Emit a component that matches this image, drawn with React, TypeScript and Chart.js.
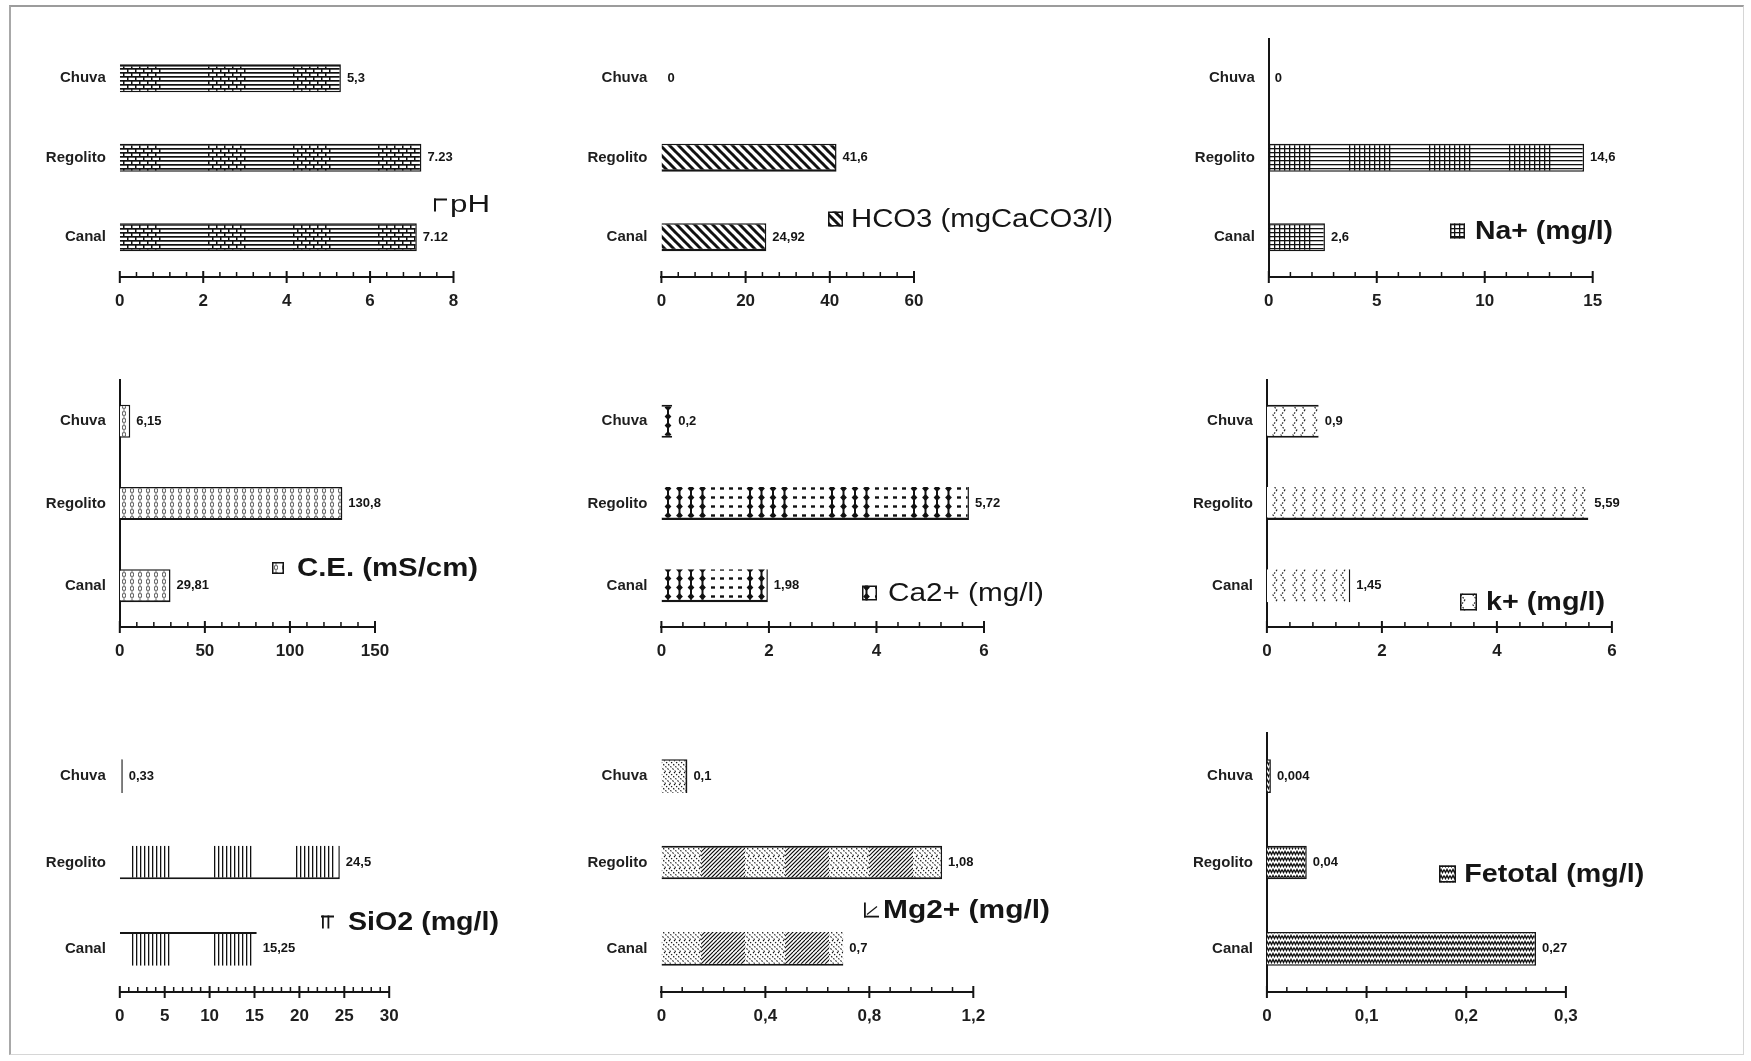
import React, { useEffect, useRef } from 'react';
import { Chart, registerables } from 'chart.js';

Chart.register(...registerables);

// ---------------- data ----------------
const categories = ['Chuva', 'Regolito', 'Canal'];

const phValues = [5.3, 7.23, 7.12];
const phLabels = ['5,3', '7.23', '7.12'];
const phTicks = [0, 2, 4, 6, 8];

const hco3Values = [0, 41.6, 24.92];
const hco3Labels = ['0', '41,6', '24,92'];
const hco3Ticks = [0, 20, 40, 60];

const naValues = [0, 14.6, 2.6];
const naLabels = ['0', '14,6', '2,6'];
const naTicks = [0, 5, 10, 15];

const ceValues = [6.15, 130.8, 29.81];
const ceLabels = ['6,15', '130,8', '29,81'];
const ceTicks = [0, 50, 100, 150];

const caValues = [0.2, 5.72, 1.98];
const caLabels = ['0,2', '5,72', '1,98'];
const caTicks = [0, 2, 4, 6];

const kValues = [0.9, 5.59, 1.45];
const kLabels = ['0,9', '5,59', '1,45'];
const kTicks = [0, 2, 4, 6];

const sio2Values = [0.33, 24.5, 15.25];
const sio2Labels = ['0,33', '24,5', '15,25'];
const sio2Ticks = [0, 5, 10, 15, 20, 25, 30];

const mgValues = [0.1, 1.08, 0.7];
const mgLabels = ['0,1', '1,08', '0,7'];
const mgTicks = [0, 0.4, 0.8, 1.2];

const feValues = [0.004, 0.04, 0.27];
const feLabels = ['0,004', '0,04', '0,27'];
const feTicks = [0, 0.1, 0.2, 0.3];

// ---------------- patterns ----------------
type Ctx = CanvasRenderingContext2D;
function tile(w: number, h: number, draw: (c: Ctx) => void) {
  const t = document.createElement('canvas');
  t.width = w;
  t.height = h;
  const c = t.getContext('2d')!;
  c.fillStyle = '#fff';
  c.fillRect(0, 0, w, h);
  c.fillStyle = '#111';
  c.strokeStyle = '#111';
  draw(c);
  return t;
}

const tileBrick = () =>
  tile(85, 8, (c) => {
    c.fillRect(0, 0, 85, 1.7);
    c.fillRect(0, 4, 85, 1.7);
    for (let x = 1; x < 38; x += 8) {
      c.fillRect(x, 1, 1.5, 3);
      c.fillRect(x + 4, 5, 1.5, 3);
    }
  });

const tileDiag = () =>
  tile(9, 9, (c) => {
    c.lineWidth = 3;
    for (const o of [-9, 0, 9]) {
      c.beginPath();
      c.moveTo(o - 1, -1);
      c.lineTo(o + 10, 10);
      c.stroke();
    }
  });

const tileGrid = () =>
  tile(80, 4, (c) => {
    c.fillRect(0, 0, 80, 1.3);
    for (let x = 0; x <= 40; x += 5) c.fillRect(x, 0, 1.3, 4);
  });

const tileOvals = () =>
  tile(8, 7, (c) => {
    c.lineWidth = 0.9;
    c.strokeStyle = '#333';
    c.beginPath();
    c.ellipse(4, 3.5, 1.5, 2.7, 0, 0, Math.PI * 2);
    c.stroke();
  });

const tileDiamond = () =>
  tile(82, 9, (c) => {
    for (let i = 0; i < 4; i++) {
      const x = 5 + i * 11.5;
      c.fillRect(x - 1, 0, 2, 9);
      c.beginPath();
      c.moveTo(x, 1);
      c.lineTo(x + 3.4, 4.5);
      c.lineTo(x, 8);
      c.lineTo(x - 3.4, 4.5);
      c.closePath();
      c.fill();
    }
    for (let i = 0; i < 4; i++) {
      const x = 50 + i * 9;
      c.fillRect(x - 2, 3.3, 4, 2.4);
    }
  });

const tileChevron = () =>
  tile(20, 10, (c) => {
    c.lineWidth = 1.2;
    c.strokeStyle = '#222';
    c.setLineDash([1.6, 1.4]);
    c.beginPath();
    c.moveTo(7, 0);
    c.lineTo(3, 5);
    c.lineTo(7, 10);
    c.moveTo(15, 0);
    c.lineTo(11, 5);
    c.lineTo(15, 10);
    c.stroke();
  });

const tileComb = () =>
  tile(82, 4, (c) => {
    for (let k = 0; k < 10; k++) c.fillRect(k * 4, 0, 1.3, 4);
  });

const tileMix = () =>
  tile(84, 12, (c) => {
    c.save();
    c.beginPath();
    c.rect(0, 0, 40, 12);
    c.clip();
    c.setLineDash([1.5, 1.5]);
    c.lineWidth = 1.1;
    c.beginPath();
    for (let x = -12; x < 52; x += 5) {
      c.moveTo(x, 0);
      c.lineTo(x + 12, 12);
    }
    c.stroke();
    c.restore();
    c.save();
    c.beginPath();
    c.rect(40, 0, 44, 12);
    c.clip();
    c.lineWidth = 1.1;
    c.beginPath();
    for (let x = 40; x < 100; x += 4) {
      c.moveTo(x, 0);
      c.lineTo(x - 12, 12);
    }
    c.stroke();
    c.restore();
  });

const tileWave = () =>
  tile(6, 6, (c) => {
    c.lineWidth = 1.4;
    c.beginPath();
    c.moveTo(0, 1.5);
    c.lineTo(1.5, 4.5);
    c.lineTo(3, 1.5);
    c.lineTo(4.5, 4.5);
    c.lineTo(6, 1.5);
    c.stroke();
  });

// ---------------- panels ----------------
type BW = { top: number; right: number; bottom: number; left: number };
const bw = (top: number, right: number, bottom: number, left: number): BW => ({ top, right, bottom, left });

type Legend = {
  text: string;
  icon: 'box' | 'gamma' | 'comb' | 'corner';
  iconX: number;
  iconSize: number;
  textX: number;
  cy: number;
  size: number;
  width: number;
  bold: boolean;
};

type PanelCfg = {
  key: string;
  values: number[];
  labels: string[];
  ticks: number[];
  minorStep: number;
  cell: [number, number, number, number];
  area: [number, number, number, number]; // left, right, top, bottom (page coords)
  barPct: number;
  tile: () => HTMLCanvasElement;
  phase: number;
  borders: BW[];
  yLine: boolean;
  legend: Legend;
};

const Y_W = 90;
const X_H = 50;

const panels: PanelCfg[] = [
  {
    key: 'ph', values: phValues, labels: phLabels, ticks: phTicks, minorStep: 0.4,
    cell: [0, 0, 560, 340], area: [119.8, 453.5, 38.5, 277], barPct: 0.35,
    tile: tileBrick, phase: 122,
    borders: [bw(2.5, 1.5, 1.5, 0), bw(1.5, 1.5, 1.5, 0), bw(1.5, 1.5, 1.5, 0)], yLine: false,
    legend: { text: 'pH', icon: 'gamma', iconX: 434, iconSize: 13, textX: 450, cy: 205, size: 23, width: 40, bold: false },
  },
  {
    key: 'hco3', values: hco3Values, labels: hco3Labels, ticks: hco3Ticks, minorStep: 4,
    cell: [560, 0, 590, 340], area: [661.4, 914, 38.5, 277], barPct: 0.35,
    tile: tileDiag, phase: 0,
    borders: [bw(1.5, 1.5, 2.5, 0), bw(1.5, 1.5, 2.5, 0), bw(1.5, 1.5, 2.5, 0)], yLine: false,
    legend: { text: 'HCO3 (mgCaCO3/l)', icon: 'box', iconX: 828, iconSize: 15, textX: 851, cy: 219, size: 25, width: 262, bold: false },
  },
  {
    key: 'na', values: naValues, labels: naLabels, ticks: naTicks, minorStep: 1,
    cell: [1150, 0, 601, 340], area: [1268.8, 1592.7, 38.5, 277], barPct: 0.35,
    tile: tileGrid, phase: 119,
    borders: [bw(1.5, 1.5, 1.5, 0), bw(1.5, 1.5, 1.5, 0), bw(1.5, 1.5, 1.5, 0)], yLine: true,
    legend: { text: 'Na+ (mg/l)', icon: 'box', iconX: 1450, iconSize: 15, textX: 1475, cy: 231, size: 25, width: 138, bold: true },
  },
  {
    key: 'ce', values: ceValues, labels: ceLabels, ticks: ceTicks, minorStep: 10,
    cell: [0, 340, 560, 360], area: [119.8, 375, 380, 627], barPct: 0.4,
    tile: tileOvals, phase: 0,
    borders: [bw(1.5, 1.5, 1.5, 0), bw(1.5, 1.5, 2, 0), bw(1.5, 1.5, 2, 0)], yLine: true,
    legend: { text: 'C.E. (mS/cm)', icon: 'box', iconX: 272, iconSize: 12, textX: 297, cy: 568, size: 26, width: 181, bold: true },
  },
  {
    key: 'ca', values: caValues, labels: caLabels, ticks: caTicks, minorStep: 0.4,
    cell: [560, 340, 590, 360], area: [661.4, 984, 380, 627], barPct: 0.4,
    tile: tileDiamond, phase: 103,
    borders: [bw(2, 0, 2, 0), bw(0, 1.5, 2.5, 0), bw(0, 1.5, 2.5, 0)], yLine: false,
    legend: { text: 'Ca2+ (mg/l)', icon: 'box', iconX: 862, iconSize: 15, textX: 888, cy: 593, size: 25, width: 156, bold: false },
  },
  {
    key: 'k', values: kValues, labels: kLabels, ticks: kTicks, minorStep: 0.4,
    cell: [1150, 340, 601, 360], area: [1266.9, 1611.9, 380, 627], barPct: 0.4,
    tile: tileChevron, phase: 0,
    borders: [bw(2, 0, 2, 0), bw(0, 0, 2.5, 0), bw(0, 1.5, 0, 0)], yLine: true,
    legend: { text: 'k+ (mg/l)', icon: 'box', iconX: 1460, iconSize: 17, textX: 1486, cy: 602, size: 25, width: 119, bold: true },
  },
  {
    key: 'sio2', values: sio2Values, labels: sio2Labels, ticks: sio2Ticks, minorStep: 1,
    cell: [0, 700, 560, 361], area: [119.8, 389.2, 733, 992], barPct: 0.39,
    tile: tileComb, phase: 132,
    borders: [bw(0, 2, 0, 0), bw(0, 1.5, 2, 0), bw(2, 0, 0, 0)], yLine: false,
    legend: { text: 'SiO2 (mg/l)', icon: 'comb', iconX: 321, iconSize: 13, textX: 348, cy: 922, size: 25, width: 151, bold: true },
  },
  {
    key: 'mg', values: mgValues, labels: mgLabels, ticks: mgTicks, minorStep: 0.08,
    cell: [560, 700, 590, 361], area: [661.4, 973.3, 733, 992], barPct: 0.39,
    tile: tileMix, phase: 101,
    borders: [bw(1.5, 2, 0, 0), bw(2, 1.5, 2, 0), bw(0, 0, 2, 0)], yLine: false,
    legend: { text: 'Mg2+ (mg/l)', icon: 'corner', iconX: 864, iconSize: 15, textX: 883, cy: 910, size: 25, width: 167, bold: true },
  },
  {
    key: 'fe', values: feValues, labels: feLabels, ticks: feTicks, minorStep: 0.02,
    cell: [1150, 700, 601, 361], area: [1266.9, 1565.9, 733, 992], barPct: 0.39,
    tile: tileWave, phase: 0,
    borders: [bw(1.5, 1.5, 1.5, 0), bw(1.5, 1.5, 1.5, 0), bw(1.5, 1.5, 1.5, 0)], yLine: true,
    legend: { text: 'Fetotal (mg/l)', icon: 'box', iconX: 1439, iconSize: 17, textX: 1464.3, cy: 874, size: 26, width: 180, bold: true },
  },
];

const FONT = '"Liberation Sans", Arial, sans-serif';
const INK = '#151515';

function fmtTick(v: number) {
  return String(+Number(v).toFixed(3)).replace('.', ',');
}

function drawIcon(ctx: Ctx, kind: Legend['icon'], pattern: CanvasPattern, x: number, y: number, s: number) {
  ctx.save();
  ctx.fillStyle = INK;
  if (kind === 'gamma') {
    ctx.fillRect(x, y, s, 2);
    ctx.fillRect(x, y, 2, s);
  } else if (kind === 'comb') {
    ctx.fillRect(x, y, s, 2);
    ctx.fillRect(x + 1, y, 1.8, s);
    ctx.fillRect(x + s * 0.5, y, 1.8, s);
  } else if (kind === 'corner') {
    ctx.fillRect(x, y, 1.8, s);
    ctx.fillRect(x, y + s - 1.8, s, 1.8);
    ctx.lineWidth = 1.2;
    ctx.strokeStyle = INK;
    ctx.beginPath();
    ctx.moveTo(x + 3, y + s - 3);
    ctx.lineTo(x + s - 2, y + 4);
    ctx.stroke();
  } else {
    ctx.fillStyle = pattern;
    ctx.fillRect(x, y, s, s);
    ctx.lineWidth = 1.5;
    ctx.strokeStyle = INK;
    ctx.strokeRect(x + 0.75, y + 0.75, s - 1.5, s - 1.5);
  }
  ctx.restore();
}

function makePlugin(p: PanelCfg, pattern: CanvasPattern) {
  return {
    id: 'decor_' + p.key,
    afterDatasetsDraw(chart: any) {
      const ctx: Ctx = chart.ctx;
      const meta = chart.getDatasetMeta(0);
      ctx.save();
      ctx.font = `bold 13px ${FONT}`;
      ctx.fillStyle = INK;
      ctx.textBaseline = 'middle';
      ctx.textAlign = 'left';
      meta.data.forEach((el: any, i: number) => {
        const { x, y } = el.getProps(['x', 'y'], true);
        ctx.fillText(p.labels[i], x + 6, y);
      });
      ctx.restore();
    },
    afterDraw(chart: any) {
      const ctx: Ctx = chart.ctx;
      const xs = chart.scales.x;
      const y0 = chart.chartArea.bottom;
      const n = Math.round((xs.max - xs.min) / p.minorStep);
      ctx.save();
      ctx.fillStyle = INK;
      for (let i = 0; i <= n; i++) {
        const px = xs.getPixelForValue(xs.min + i * p.minorStep);
        if (i % 5 === 0) ctx.fillRect(px - 1, y0 - 6, 2, 12);
        else ctx.fillRect(px - 0.75, y0 - 5, 1.5, 5);
      }
      // legend
      const L = p.legend;
      const ox = p.cell[0];
      const oy = p.cell[1];
      const cy = L.cy - oy;
      drawIcon(ctx, L.icon, pattern, L.iconX - ox, cy - L.iconSize / 2, L.iconSize);
      ctx.font = `${L.bold ? 'bold ' : ''}${L.size}px ${FONT}`;
      const w = ctx.measureText(L.text).width;
      ctx.translate(L.textX - ox, cy);
      ctx.scale(L.width / w, 1);
      ctx.textBaseline = 'middle';
      ctx.textAlign = 'left';
      ctx.fillStyle = INK;
      ctx.fillText(L.text, 0, 1);
      ctx.restore();
    },
  };
}

function PanelChart({ p }: { p: PanelCfg }) {
  const ref = useRef<HTMLCanvasElement>(null);
  useEffect(() => {
    const canvas = ref.current!;
    const ctx = canvas.getContext('2d')!;
    const pattern = ctx.createPattern(p.tile(), 'repeat')!;
    if (p.phase) pattern.setTransform(new DOMMatrix([1, 0, 0, 1, p.phase, 0]));
    const [cx, cy, cw, ch] = p.cell;
    const [aL, aR, aT, aB] = p.area;
    const padding = {
      left: aL - cx - Y_W,
      right: cx + cw - aR,
      top: aT - cy,
      bottom: cy + ch - aB - X_H,
    };
    const chart = new Chart(canvas, {
      type: 'bar',
      data: {
        labels: categories,
        datasets: [
          {
            data: p.values,
            backgroundColor: pattern as any,
            borderColor: INK,
            borderWidth: ((c: any) => p.borders[c.dataIndex]) as any,
            borderSkipped: false,
            barPercentage: p.barPct,
            categoryPercentage: 1,
          },
        ],
      },
      options: {
        indexAxis: 'y',
        responsive: false,
        maintainAspectRatio: false,
        animation: false,
        devicePixelRatio: 1,
        layout: { padding },
        plugins: { legend: { display: false }, tooltip: { enabled: false } },
        scales: {
          x: {
            type: 'linear',
            min: p.ticks[0],
            max: p.ticks[p.ticks.length - 1],
            afterBuildTicks: (s: any) => {
              s.ticks = p.ticks.map((v) => ({ value: v }));
            },
            afterFit: (s: any) => {
              s.height = X_H;
            },
            grid: { display: false, drawTicks: false },
            border: { display: true, color: INK, width: 2 },
            ticks: {
              padding: 14,
              autoSkip: false,
              maxRotation: 0,
              color: '#1e1e1e',
              font: { family: FONT, size: 17, weight: 'bold' },
              callback: (v: any) => fmtTick(v),
            },
          },
          y: {
            afterFit: (s: any) => {
              s.width = Y_W;
            },
            grid: { display: false, drawTicks: false },
            border: { display: p.yLine, color: INK, width: 2 },
            ticks: {
              padding: 14,
              color: '#1e1e1e',
              font: { family: FONT, size: 15, weight: 'bold' },
            },
          },
        },
      } as any,
      plugins: [makePlugin(p, pattern)],
    });
    return () => chart.destroy();
  }, [p]);
  return (
    <canvas
      ref={ref}
      width={p.cell[2]}
      height={p.cell[3]}
      style={{ position: 'absolute', left: p.cell[0], top: p.cell[1], width: p.cell[2], height: p.cell[3] }}
    />
  );
}

export default function App() {
  return (
    <div
      style={{
        position: 'absolute',
        left: 0,
        top: 0,
        width: 1751,
        height: 1061,
        background: '#fff',
        overflow: 'hidden',
      }}
    >
      <div
        style={{
          position: 'absolute',
          left: 9,
          top: 5,
          width: 1735,
          height: 1050,
          boxSizing: 'border-box',
          borderTop: '2px solid #9c9c9c',
          borderLeft: '2px solid #a8a8a8',
          borderRight: '1px solid #d6d6d6',
          borderBottom: '1px solid #d6d6d6',
        }}
      />
      {panels.map((p) => (
        <PanelChart key={p.key} p={p} />
      ))}
    </div>
  );
}
